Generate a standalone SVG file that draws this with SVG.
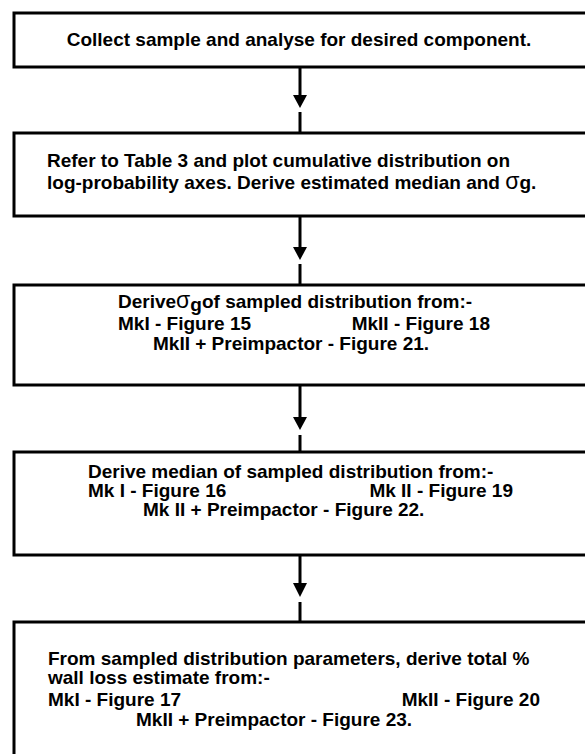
<svg xmlns="http://www.w3.org/2000/svg" width="585" height="754" viewBox="0 0 585 754">
<style>
.box{fill:#fff;stroke:#000;stroke-width:3}
.t{font-family:"Liberation Sans",Arial,sans-serif;font-weight:bold;font-size:19px;fill:#000}
.c{text-anchor:middle}
.e{text-anchor:end}
.sg{font-size:23px;font-weight:normal}
.stem{stroke:#000;stroke-width:3;fill:none}
.head{fill:#000}
</style>
<rect width="585" height="754" fill="#fff"/>
<g id="connectors">
<line class="stem" x1="300" y1="67" x2="300" y2="96"/><polygon class="head" points="293,95 307,95 300,108"/><line class="stem" x1="300" y1="112" x2="300" y2="133"/>
<line class="stem" x1="300" y1="216" x2="300" y2="248"/><polygon class="head" points="293,247 307,247 300,260"/><line class="stem" x1="300" y1="264" x2="300" y2="285"/>
<line class="stem" x1="300" y1="385" x2="300" y2="418"/><polygon class="head" points="293,417 307,417 300,430"/><line class="stem" x1="300" y1="435" x2="300" y2="452"/>
<line class="stem" x1="300" y1="555" x2="300" y2="584"/><polygon class="head" points="293,583 307,583 300,597"/><line class="stem" x1="300" y1="602" x2="300" y2="622"/>
</g>
<g id="n1">
<rect class="box" x="14" y="13" width="600" height="54"/>
<text class="t c" x="299" y="46">Collect sample and analyse for desired component.</text>
</g>
<g id="n2">
<rect class="box" x="14" y="133" width="600" height="83"/>
<text class="t" x="47" y="167">Refer to Table 3 and plot cumulative distribution on</text>
<text class="t" x="47" y="189">log-probability axes. Derive estimated median and <tspan class="sg">σ</tspan>g.</text>
</g>
<g id="n3">
<rect class="box" x="14" y="285" width="600" height="100"/>
<text class="t" x="118" y="308">Derive<tspan class="sg">σ</tspan><tspan dy="3">g</tspan><tspan dy="-3">of sampled distribution from:-</tspan></text>
<text class="t" x="118" y="330">MkI - Figure 15</text>
<text class="t e" x="490" y="330">MkII - Figure 18</text>
<text class="t" x="153" y="350">MkII + Preimpactor - Figure 21.</text>
</g>
<g id="n4">
<rect class="box" x="14" y="452" width="600" height="103"/>
<text class="t" x="88" y="478">Derive median of sampled distribution from:-</text>
<text class="t" x="88" y="497">Mk I - Figure 16</text>
<text class="t e" x="513" y="497">Mk II - Figure 19</text>
<text class="t" x="143" y="516">Mk II + Preimpactor - Figure 22.</text>
</g>
<g id="n5">
<rect class="box" x="14" y="622" width="600" height="150"/>
<text class="t" x="48" y="665">From sampled distribution parameters, derive total %</text>
<text class="t" x="48" y="684">wall loss estimate from:-</text>
<text class="t" x="48" y="706">MkI - Figure 17</text>
<text class="t e" x="540" y="706">MkII - Figure 20</text>
<text class="t" x="136" y="726">MkII + Preimpactor - Figure 23.</text>
</g>
</svg>
